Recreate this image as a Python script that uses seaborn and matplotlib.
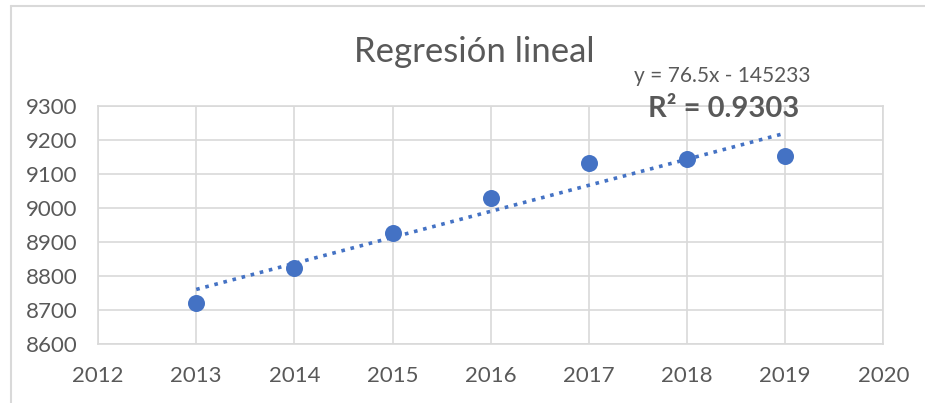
import matplotlib
matplotlib.use("Agg")
import matplotlib.pyplot as plt
import seaborn as sns
import pandas as pd
import numpy as np
from matplotlib.lines import Line2D

years = [2013, 2014, 2015, 2016, 2017, 2018, 2019]
values = [8722, 8823, 8927, 9030, 9133, 9145, 9153]
x_ticks = [2012, 2013, 2014, 2015, 2016, 2017, 2018, 2019, 2020]
y_ticks = [8600, 8700, 8800, 8900, 9000, 9100, 9200, 9300]
title = "Regresión lineal"
eq_text = "y = 76.5x - 145233"
r2_text = "R² = 0.9303"

sns.set_theme(style="white")
plt.rcParams['font.family'] = ['Lato', 'DejaVu Sans']

df = pd.DataFrame({"year": years, "value": values})
blue = "#4472C4"
grid = "#D9D9D9"
txt = "#595959"

fig = plt.figure(figsize=(9.25, 4.03), dpi=100)
ax = fig.add_axes([0.106, 0.146, 0.849, 0.591])

sns.regplot(data=df, x="year", y="value", ax=ax, scatter=False, ci=None,
            line_kws={"color": blue, "linestyle": (0, (1, 1.6)), "linewidth": 2.6})
sns.scatterplot(data=df, x="year", y="value", ax=ax, color=blue, s=150,
                edgecolor=blue, linewidth=0, zorder=5)

ax.set_xlim(2012, 2020)
ax.set_ylim(8600, 9300)
ax.set_xticks(x_ticks)
ax.set_yticks(y_ticks)
ax.set_xticklabels([str(v) for v in x_ticks])
ax.set_yticklabels([str(v) for v in y_ticks])
ax.grid(True, color=grid, linewidth=1.2)
ax.set_axisbelow(True)
for s in ax.spines.values():
    s.set_color(grid)
    s.set_linewidth(1.2)
ax.tick_params(axis="both", length=0, labelsize=16, colors=txt)
ax.tick_params(axis="x", pad=16)
ax.tick_params(axis="y", pad=15)
ax.set_xlabel("")
ax.set_ylabel("")

fig.text(0.513, 0.872, title, ha="center", va="center", fontsize=25, color=txt)
fig.text(0.781, 0.812, eq_text, ha="center", va="center", fontsize=15, color=txt)
fig.text(0.782, 0.730, r2_text, ha="center", va="center", fontsize=21,
         fontweight="bold", color=txt)

# outer chart border (left and top visible)
fig.add_artist(Line2D([0.012, 0.012], [0.0, 0.985], transform=fig.transFigure,
                      color=grid, linewidth=1.5))
fig.add_artist(Line2D([0.012, 1.0], [0.985, 0.985], transform=fig.transFigure,
                      color=grid, linewidth=1.5))

fig.savefig("out.png", dpi=100)
